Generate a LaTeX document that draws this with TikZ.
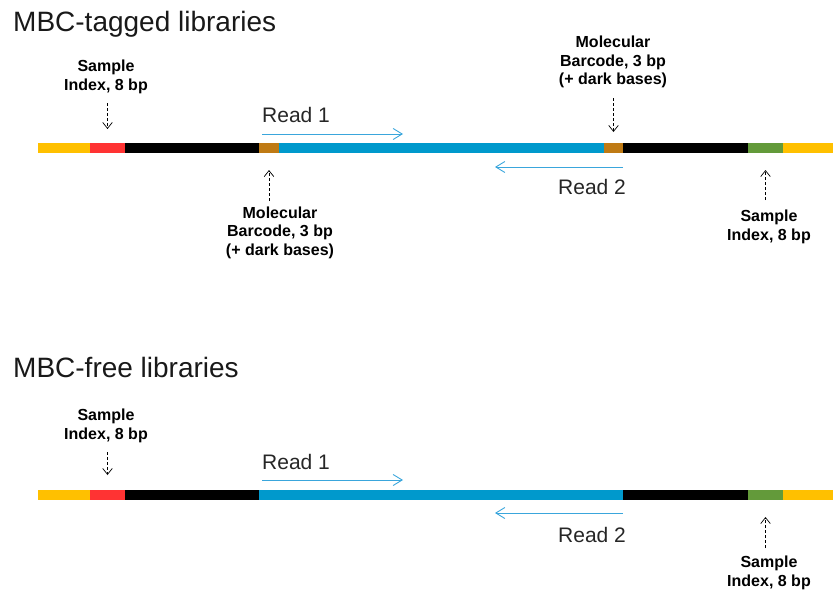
\documentclass[tikz,border=0pt]{standalone}
\usepackage{fontspec}
\setmainfont{Liberation Sans}
\usetikzlibrary{arrows.meta}

\definecolor{adapter}{HTML}{FFC000}
\definecolor{idxfive}{HTML}{FF3333}
\definecolor{mbc}{HTML}{BF7A14}
\definecolor{insert}{HTML}{0099CC}
\definecolor{idxseven}{HTML}{639A3A}
\definecolor{readline}{HTML}{3AA6DC}

\tikzset{
  seg/.style={inner sep=0pt, outer sep=0pt, minimum height=10pt, anchor=west},
  lbl/.style={font=\bfseries\fontsize{16}{18.5}\selectfont, align=center, inner sep=0pt},
  ttl/.style={font=\fontsize{28}{32}\selectfont, anchor=base west, inner sep=0pt, text=black!90},
  rdtxt/.style={font=\fontsize{21}{24}\selectfont, anchor=base west, inner sep=0pt, text=black!85},
  rd/.style={readline, line width=0.9pt, -{Straight Barb[length=9pt,width=11pt]}},
  ptr/.style={densely dashed, line width=0.7pt, -{Straight Barb[length=6pt,width=9.5pt]}},
}

\begin{document}
\begin{tikzpicture}[x=1pt, y=-1pt]
    \useasboundingbox (0,0) rectangle (833,594);

    % MBC-tagged construct
    \node[ttl] (ttag) at (13,32) {MBC-tagged libraries};
    \foreach \n/\a/\b/\c in {t1/38/90/adapter, t2/90/125/idxfive, t3/125/259/black,
        t4/259/279/mbc, t5/279/604/insert, t6/604/623/mbc, t7/623/748/black,
        t8/748/783/idxseven, t9/783/833/adapter}
      \node[seg, fill=\c, minimum width={(\b-\a)*1pt}] (\n) at (\a,148) {};

    \node[lbl, anchor=south] (tsi5) at (106,94) {Sample\\Index, 8 bp};
    \node[lbl, anchor=north] (tmb1) at (280,206.5) {Molecular\\Barcode, 3 bp\\(+ dark bases)};
    \node[lbl, anchor=south] (tmb2) at (613,88.5) {Molecular\\Barcode, 3 bp\\(+ dark bases)};
    \node[lbl, anchor=north] (tsi7) at (769,210) {Sample\\Index, 8 bp};

    \draw[ptr, shorten <=9pt, shorten >=14pt] (tsi5.south -| t2.north) -- (t2.north);
    \draw[ptr, shorten <=5.5pt, shorten >=17pt] (tmb1.north -| t4.south) -- (t4.south);
    \draw[ptr, shorten <=9.5pt, shorten >=11pt] (tmb2.south -| t6.north) -- (t6.north);
    \draw[ptr, shorten <=10pt, shorten >=17pt] (tsi7.north -| t8.south) -- (t8.south);

    \node[rdtxt] (tr1) at (262,122) {Read 1};
    \node[rdtxt] (tr2) at (558,194) {Read 2};
    \draw[rd] ([yshift=-12pt]tr1.base west) -- +(141,0);
    \draw[rd] ([yshift=-14pt]t6.south east) -- +(-128,0);

    % MBC-free construct
    \node[ttl] (tfree) at (13,377.5) {MBC-free libraries};
    \foreach \n/\a/\b/\c in {b1/38/90/adapter, b2/90/125/idxfive, b3/125/259/black,
        b4/259/623/insert, b5/623/748/black, b6/748/783/idxseven, b7/783/833/adapter}
      \node[seg, fill=\c, minimum width={(\b-\a)*1pt}] (\n) at (\a,495) {};

    \node[lbl, anchor=south] (bsi5) at (106,443) {Sample\\Index, 8 bp};
    \node[lbl, anchor=north] (bsi7) at (769,556) {Sample\\Index, 8 bp};

    \draw[ptr, shorten <=9pt, shorten >=15pt] (bsi5.south -| b2.north) -- (b2.north);
    \draw[ptr, shorten <=8pt, shorten >=17pt] (bsi7.north -| b6.south) -- (b6.south);

    \node[rdtxt] (br1) at (262,469) {Read 1};
    \node[rdtxt] (br2) at (558,542) {Read 2};
    \draw[rd] ([yshift=-11pt]br1.base west) -- +(141,0);
    \draw[rd] ([yshift=-13pt]b4.south east) -- +(-128,0);
\end{tikzpicture}
\end{document}
